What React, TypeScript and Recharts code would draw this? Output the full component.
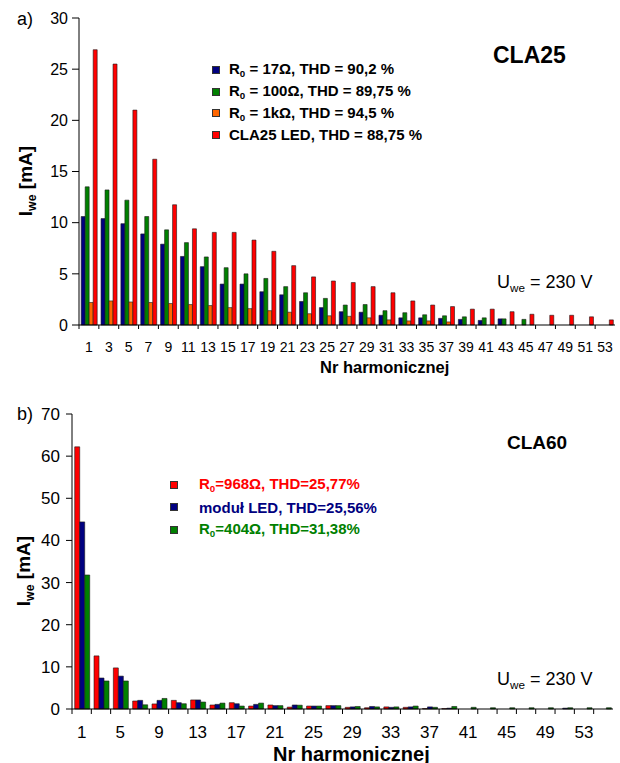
import React from "react";
import { Bar, BarChart, Legend, XAxis, YAxis } from "recharts";

// a) CLA25 – harmonic currents
const harmonicsA = [1, 3, 5, 7, 9, 11, 13, 15, 17, 19, 21, 23, 25, 27, 29, 31, 33, 35, 37, 39, 41, 43, 45, 47, 49, 51, 53];
const r17 = [10.6, 10.4, 9.9, 8.9, 7.9, 6.7, 5.7, 4.0, 4.0, 3.25, 2.95, 2.3, 1.7, 1.3, 1.25, 0.95, 0.7, 0.7, 0.65, 0.55, 0.45, 0.6, 0, 0, 0, 0, 0];
const r100 = [13.5, 13.2, 12.2, 10.6, 9.3, 8.05, 6.65, 5.6, 5.0, 4.55, 3.75, 3.15, 2.6, 1.95, 2.0, 1.4, 1.2, 1.0, 0.9, 0.8, 0.7, 0.6, 0.55, 0, 0, 0, 0];
const r1k = [2.2, 2.35, 2.25, 2.2, 2.1, 2.0, 1.9, 1.7, 1.6, 1.4, 1.25, 1.1, 0.9, 0.85, 0.7, 0.5, 0.4, 0.4, 0.3, 0, 0, 0, 0, 0, 0, 0, 0];
const led25 = [26.9, 25.5, 21.0, 16.2, 11.75, 9.4, 9.05, 9.05, 8.3, 7.2, 5.8, 4.7, 4.3, 4.15, 3.75, 3.15, 2.35, 1.95, 1.8, 1.55, 1.55, 1.3, 1.05, 0.95, 0.95, 0.8, 0.5];
const ticksA = [0, 5, 10, 15, 20, 25, 30];
const namesA = ["R0 = 17Ω, THD = 90,2 %", "R0 = 100Ω, THD = 89,75 %", "R0 = 1kΩ, THD = 94,5 %", "CLA25 LED, THD = 88,75 %"];

// b) CLA60
const harmonicsB = [1, 3, 5, 7, 9, 11, 13, 15, 17, 19, 21, 23, 25, 27, 29, 31, 33, 35, 37, 39, 41, 43, 45, 47, 49, 51, 53, 55];
const r968 = [62.2, 12.6, 9.75, 1.9, 1.2, 2.05, 2.15, 0.95, 1.5, 0.7, 0.95, 0.45, 0.7, 0.8, 0.4, 0.3, 0.5, 0.4, 0.1, 0.1, 0, 0, 0, 0, 0, 0, 0, 0];
const led60 = [44.4, 7.35, 7.8, 2.05, 2.05, 1.5, 2.15, 1.1, 1.25, 1.1, 0.8, 0.95, 0.7, 0.8, 0.5, 0.6, 0.4, 0.5, 0.5, 0.2, 0, 0, 0, 0, 0, 0.2, 0, 0];
const r404 = [31.8, 6.65, 6.65, 1.0, 2.5, 1.25, 1.65, 1.4, 0.7, 1.4, 0.8, 0.9, 0.7, 0.8, 0.6, 0.5, 0.5, 0.7, 0.4, 0.6, 0.4, 0.3, 0.3, 0.3, 0.3, 0.3, 0.3, 0.3];
const ticksB = [0, 10, 20, 30, 40, 50, 60, 70];
const namesB = ["R0=968Ω, THD=25,77%", "moduł LED, THD=25,56%", "R0=404Ω, THD=31,38%"];

const FONT = "Arial, 'Liberation Sans', Helvetica, sans-serif";
const NAVY = "#000080";
const GREEN = "#008000";
const ORANGE = "#ff6600";
const RED = "#ff0000";
const EDGE = "#1a1a1a";
const FRAME = "#9a9a9a";

const colorsA = [NAVY, GREEN, ORANGE, RED];
const colorsB = [RED, NAVY, GREEN];

const dataA = harmonicsA.map((h, i) => ({ h, r17: r17[i], r100: r100[i], r1k: r1k[i], led: led25[i] }));
const dataB = harmonicsB.map((h, i) => ({ h, r968: r968[i], led: led60[i], r404: r404[i] }));

// "R0..." -> R with subscript 0
function SeriesName({ text }: { text: string }) {
  if (text.startsWith("R0")) {
    return (
      <span>
        R<span style={{ fontSize: "0.65em", verticalAlign: "-0.3em" }}>0</span>
        {text.slice(2)}
      </span>
    );
  }
  return <span>{text}</span>;
}

function makeLegend(names: string[], colors: string[], rowH: number, gap: number, colored: boolean) {
  return () => (
    <div style={{ fontFamily: FONT, fontWeight: "bold", fontSize: 15 }}>
      {names.map((n, i) => (
        <div key={n} style={{ height: rowH, display: "flex", alignItems: "center", whiteSpace: "nowrap" }}>
          <span
            style={{
              display: "inline-block",
              width: 6,
              height: 6,
              background: colors[i],
              border: "1px solid #333",
              marginRight: gap,
            }}
          />
          <span style={{ color: colored ? colors[i] : "#000" }}>
            <SeriesName text={n} />
          </span>
        </div>
      ))}
    </div>
  );
}

// category ticks drawn on band boundaries, labels at band centres
function makeTick(step: number, fontSize: number, baseline: number, tickLen: number, both: boolean) {
  return (props: any) => {
    const { x, y, payload } = props;
    return (
      <g>
        <line x1={x - step / 2} x2={x - step / 2} y1={y} y2={y + tickLen} stroke="#000" />
        {both && <line x1={x + step / 2} x2={x + step / 2} y1={y} y2={y + tickLen} stroke="#000" />}
        <text x={x} y={y + baseline} textAnchor="middle" fontSize={fontSize} fontFamily={FONT} fill="#000">
          {payload.value}
        </text>
      </g>
    );
  };
}

const abs = (left: number, top: number, extra: React.CSSProperties = {}): React.CSSProperties => ({
  position: "absolute",
  left,
  top,
  lineHeight: 1,
  whiteSpace: "nowrap",
  fontFamily: FONT,
  color: "#000",
  ...extra,
});

function Sub({ children }: { children: React.ReactNode }) {
  return <span style={{ fontSize: "0.65em", verticalAlign: "-0.3em" }}>{children}</span>;
}

export default function App() {
  const stepA = (620 - 79 - 5) / harmonicsA.length;
  const stepB = (620 - 72 - 7) / harmonicsB.length;

  return (
    <div style={{ position: "absolute", left: 0, top: 0, width: 620, height: 763, background: "#fff", fontFamily: FONT }}>
      {/* chart a */}
      <div style={{ position: "absolute", left: 0, top: 0 }}>
        <BarChart width={620} height={366} data={dataA} margin={{ top: 18, right: 5, bottom: 0, left: 0 }} barCategoryGap="11%" barGap={0}>
          <XAxis
            dataKey="h"
            interval={0}
            height={41}
            tickSize={0}
            tickMargin={0}
            tickLine={false}
            axisLine={{ stroke: "#000" }}
            tick={makeTick(stepA, 14, 26.5, 4, false)}
          />
          <XAxis xAxisId="frame" orientation="top" height={0} tick={false} tickLine={false} axisLine={{ stroke: FRAME }} />
          <YAxis
            domain={[0, 30]}
            ticks={ticksA}
            width={79}
            tickSize={7}
            tickMargin={4}
            axisLine={{ stroke: "#000" }}
            tickLine={{ stroke: "#000" }}
            tick={{ fontSize: 16, fill: "#000", fontFamily: FONT }}
          />
          <YAxis yAxisId="frame" orientation="right" width={0} domain={[0, 1]} tick={false} tickLine={false} axisLine={{ stroke: FRAME }} />
          <Legend
            layout="vertical"
            align="center"
            verticalAlign="middle"
            content={makeLegend(namesA, colorsA, 21.7, 9, false)}
            wrapperStyle={{ left: 212, top: 59, width: "auto", height: "auto" }}
          />
          <Bar dataKey="r17" name={namesA[0]} fill={colorsA[0]} stroke={EDGE} strokeWidth={0.6} isAnimationActive={false} />
          <Bar dataKey="r100" name={namesA[1]} fill={colorsA[1]} stroke={EDGE} strokeWidth={0.6} isAnimationActive={false} />
          <Bar dataKey="r1k" name={namesA[2]} fill={colorsA[2]} stroke={EDGE} strokeWidth={0.6} isAnimationActive={false} />
          <Bar dataKey="led" name={namesA[3]} fill={colorsA[3]} stroke={EDGE} strokeWidth={0.6} isAnimationActive={false} />
        </BarChart>
      </div>

      {/* chart b */}
      <div style={{ position: "absolute", left: 0, top: 400 }}>
        <BarChart width={620} height={360} data={dataB} margin={{ top: 14, right: 7, bottom: 0, left: 0 }} barCategoryGap="14%" barGap={0}>
          <XAxis
            dataKey="h"
            interval={1}
            height={51}
            tickSize={0}
            tickMargin={0}
            tickLine={false}
            axisLine={{ stroke: "#000" }}
            tick={makeTick(stepB, 17, 29, 5, true)}
          />
          <XAxis xAxisId="frame" orientation="top" height={0} tick={false} tickLine={false} axisLine={{ stroke: FRAME }} />
          <YAxis
            domain={[0, 70]}
            ticks={ticksB}
            width={72}
            tickSize={6}
            tickMargin={6}
            axisLine={{ stroke: "#000" }}
            tickLine={{ stroke: "#000" }}
            tick={{ fontSize: 17, fill: "#000", fontFamily: FONT }}
          />
          <YAxis yAxisId="frame" orientation="right" width={0} domain={[0, 1]} tick={false} tickLine={false} axisLine={{ stroke: FRAME }} />
          <Legend
            layout="vertical"
            align="center"
            verticalAlign="middle"
            content={makeLegend(namesB, colorsB, 22.5, 21, true)}
            wrapperStyle={{ left: 170, top: 73.5, width: "auto", height: "auto" }}
          />
          <Bar dataKey="r968" name={namesB[0]} fill={colorsB[0]} stroke={EDGE} strokeWidth={0.6} isAnimationActive={false} />
          <Bar dataKey="led" name={namesB[1]} fill={colorsB[1]} stroke={EDGE} strokeWidth={0.6} isAnimationActive={false} />
          <Bar dataKey="r404" name={namesB[2]} fill={colorsB[2]} stroke={EDGE} strokeWidth={0.6} isAnimationActive={false} />
        </BarChart>
      </div>

      {/* annotations a */}
      <div style={abs(17, 10, { fontSize: 18 })}>a)</div>
      <div style={abs(493, 44, { fontSize: 23, fontWeight: "bold" })}>CLA25</div>
      <div style={abs(497, 272.5, { fontSize: 18 })}>
        U<Sub>we</Sub> = 230 V
      </div>
      <div style={abs(320, 359, { fontSize: 16.5, fontWeight: "bold" })}>Nr harmonicznej</div>
      <div style={abs(27, 181, { fontSize: 19, fontWeight: "bold", transform: "translate(-50%, -50%) rotate(-90deg)" })}>
        I<Sub>we</Sub> [mA]
      </div>

      {/* annotations b */}
      <div style={abs(17, 405, { fontSize: 18 })}>b)</div>
      <div style={abs(507, 432.5, { fontSize: 19, fontWeight: "bold" })}>CLA60</div>
      <div style={abs(497, 669.5, { fontSize: 18 })}>
        U<Sub>we</Sub> = 230 V
      </div>
      <div style={abs(273, 743.5, { fontSize: 20, fontWeight: "bold" })}>Nr harmonicznej</div>
      <div style={abs(25, 571, { fontSize: 19, fontWeight: "bold", transform: "translate(-50%, -50%) rotate(-90deg)" })}>
        I<Sub>we</Sub> [mA]
      </div>
    </div>
  );
}
